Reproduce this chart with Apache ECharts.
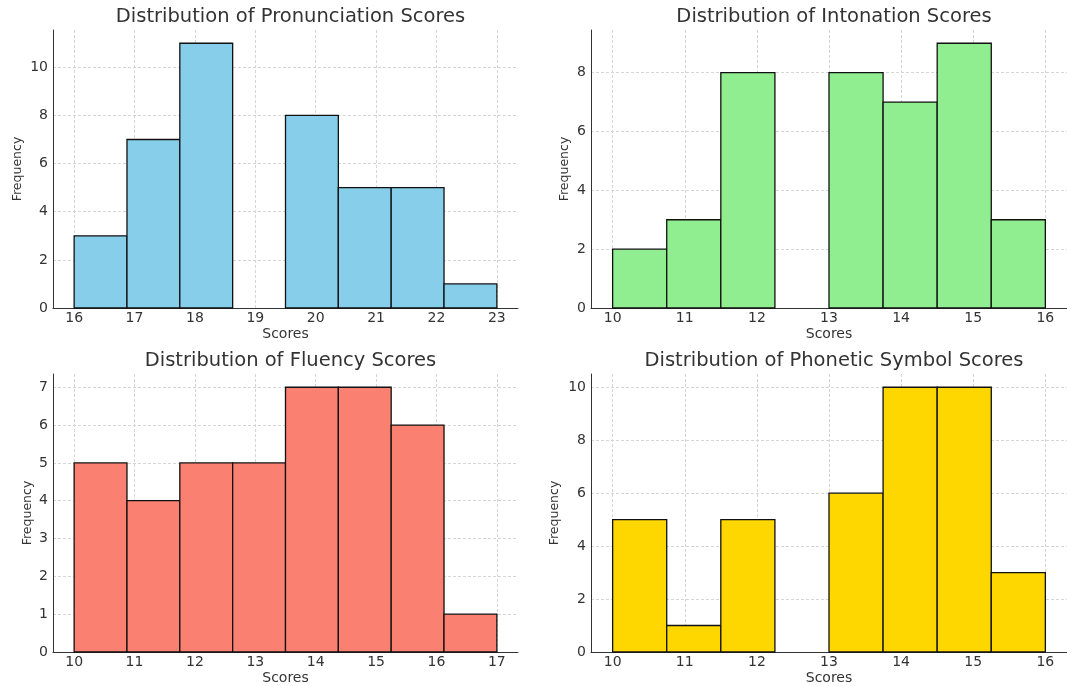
<!DOCTYPE html>
<html><head><meta charset="utf-8">
<script src="https://cdn.jsdelivr.net/npm/echarts@6/dist/echarts.min.js"></script>
<style>html,body{margin:0;padding:0;background:#fff}#c{width:1067px;height:686px}</style>
</head><body><div id="c"></div>
<script>
// ---- data ----
const chartTitles = ['Distribution of Pronunciation Scores', 'Distribution of Intonation Scores', 'Distribution of Fluency Scores', 'Distribution of Phonetic Symbol Scores'];
const pronunciationCounts = [3, 7, 11, 0, 8, 5, 5, 1];
const pronunciationRange = [16, 23];
const intonationCounts = [2, 3, 8, 0, 8, 7, 9, 3];
const intonationRange = [10, 16];
const fluencyCounts = [5, 4, 5, 5, 7, 7, 6, 1];
const fluencyRange = [10, 17];
const phoneticCounts = [5, 1, 5, 0, 6, 10, 10, 3];
const phoneticRange = [10, 16];
const pronunciationXTicks = [16, 17, 18, 19, 20, 21, 22, 23];
const intonationXTicks = [10, 11, 12, 13, 14, 15, 16];
const fluencyXTicks = [10, 11, 12, 13, 14, 15, 16, 17];
const phoneticXTicks = [10, 11, 12, 13, 14, 15, 16];
const pronunciationYTicks = [0, 2, 4, 6, 8, 10];
const intonationYTicks = [0, 2, 4, 6, 8];
const fluencyYTicks = [0, 1, 2, 3, 4, 5, 6, 7];
const phoneticYTicks = [0, 2, 4, 6, 8, 10];
const barColors = ['#87CEEB', '#90EE90', '#FA8072', '#FFD700'];

const panels = [
  {counts: pronunciationCounts, range: pronunciationRange, xt: pronunciationXTicks, yt: pronunciationYTicks, grid: {left: 53, top: 30, width: 465, height: 278}, nameGap: 29},
  {counts: intonationCounts, range: intonationRange, xt: intonationXTicks, yt: intonationYTicks, grid: {left: 591, top: 30, width: 476, height: 278}, nameGap: 20},
  {counts: fluencyCounts, range: fluencyRange, xt: fluencyXTicks, yt: fluencyYTicks, grid: {left: 53, top: 374, width: 465, height: 278}, nameGap: 19},
  {counts: phoneticCounts, range: phoneticRange, xt: phoneticXTicks, yt: phoneticYTicks, grid: {left: 591, top: 374, width: 476, height: 278}, nameGap: 30}
];

const FONT = 'DejaVu Sans';
const TXT = '#333';
const grids = [], xAxes = [], yAxes = [], series = [], titles = [];

panels.forEach((p, i) => {
  const lo = p.range[0], hi = p.range[1], n = p.counts.length;
  const w = (hi - lo) / n;
  const mx = (hi - lo) * 0.05;
  const ymax = Math.max(...p.counts) * 1.05;
  grids.push(Object.assign({containLabel: false}, p.grid));
  titles.push({text: chartTitles[i], left: p.grid.left + p.grid.width / 2, top: p.grid.top - 28, textAlign: 'center',
    textStyle: {fontFamily: FONT, fontSize: 19.5, fontWeight: 'normal', color: TXT}});
  xAxes.push({type: 'value', gridIndex: i, min: lo - mx, max: hi + mx,
    name: 'Scores', nameLocation: 'middle', nameGap: 19,
    nameTextStyle: {fontFamily: FONT, fontSize: 14, color: TXT},
    axisLine: {show: true, onZero: false, lineStyle: {color: '#333', width: 1}},
    axisTick: {show: false, customValues: p.xt},
    axisLabel: {customValues: p.xt, fontFamily: FONT, fontSize: 14, color: TXT, margin: 3},
    splitLine: {show: true, lineStyle: {color: '#d5d5d5', type: [3, 2], width: 1}}
  });
  yAxes.push({type: 'value', gridIndex: i, min: 0, max: ymax,
    name: 'Frequency', nameLocation: 'middle', nameGap: p.nameGap,
    nameTextStyle: {fontFamily: FONT, fontSize: 12.5, color: TXT},
    axisLine: {show: true, lineStyle: {color: '#333', width: 1}},
    axisTick: {show: false, customValues: p.yt},
    axisLabel: {customValues: p.yt, fontFamily: FONT, fontSize: 14, color: TXT, margin: 5},
    splitLine: {show: true, lineStyle: {color: '#d5d5d5', type: [3, 2], width: 1}}
  });
  const data = p.counts.map((c, k) => [lo + k * w, lo + (k + 1) * w, c]);
  series.push({type: 'custom', xAxisIndex: i, yAxisIndex: i, data: data,
    encode: {x: [0, 1], y: 2}, itemStyle: {color: barColors[i]},
    renderItem: function (params, api) {
      if (api.value(2) <= 0) return null;
      const a = api.coord([api.value(0), api.value(2)]);
      const b = api.coord([api.value(1), 0]);
      return {type: 'rect', shape: {x: a[0], y: a[1], width: b[0] - a[0], height: b[1] - a[1]},
        style: {fill: barColors[i], stroke: '#111', lineWidth: 1.3}};
    }
  });
});

const chart = echarts.init(document.getElementById('c'), null, {renderer: 'canvas'});
chart.setOption({animation: false, backgroundColor: '#fff', title: titles, grid: grids, xAxis: xAxes, yAxis: yAxes, series: series});
</script></body></html>
